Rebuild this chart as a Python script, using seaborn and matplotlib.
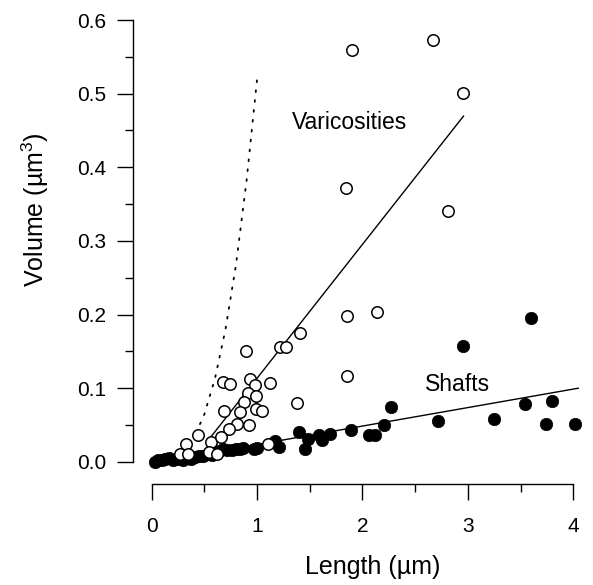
import numpy as np
import pandas as pd
import matplotlib
matplotlib.use("Agg")
import matplotlib.pyplot as plt
import seaborn as sns
from matplotlib.ticker import MultipleLocator, FormatStrFormatter

# =====================================
# DATA
# =====================================
# Varicosities (open circles): length (um), volume (um^3)
vari_length = [1.90, 2.67, 2.95, 1.84, 2.81, 1.85, 2.14, 1.41, 1.85, 0.89,
               1.22, 1.27, 0.93, 0.68, 0.74, 0.98, 1.12, 0.91, 0.99, 0.88,
               1.38, 0.69, 0.84, 0.99, 1.05, 0.81, 0.92, 0.73, 0.44, 0.56,
               0.66, 0.33, 0.27, 0.34, 0.54, 0.62, 1.10]
vari_volume = [0.559, 0.573, 0.501, 0.372, 0.341, 0.198, 0.204, 0.175, 0.117, 0.151,
               0.156, 0.156, 0.112, 0.108, 0.106, 0.104, 0.107, 0.093, 0.090, 0.081,
               0.080, 0.069, 0.068, 0.072, 0.069, 0.051, 0.050, 0.045, 0.036, 0.027,
               0.034, 0.024, 0.011, 0.011, 0.014, 0.011, 0.024]

# Shafts (filled circles)
shaft_length = [0.03, 0.06, 0.10, 0.13, 0.16, 0.20, 0.24, 0.27, 0.30, 0.34,
                0.37, 0.41, 0.45, 0.49, 0.53, 0.57, 0.61, 0.64, 0.68, 0.71,
                0.76, 0.80, 0.84, 0.87, 0.97, 1.00,
                1.17, 1.21, 1.40, 1.45, 1.48, 1.59, 1.62, 1.69, 1.89, 2.06,
                2.12, 2.20, 2.27, 2.95, 3.60, 2.72, 3.25, 3.54, 3.80, 3.74, 4.02]
shaft_volume = [0.000, 0.002, 0.002, 0.004, 0.005, 0.003, 0.004, 0.006, 0.002, 0.005,
                0.004, 0.007, 0.008, 0.008, 0.011, 0.010, 0.013, 0.015, 0.017, 0.016,
                0.016, 0.017, 0.017, 0.019, 0.018, 0.019,
                0.029, 0.020, 0.040, 0.017, 0.031, 0.037, 0.030, 0.038, 0.044, 0.037,
                0.037, 0.050, 0.074, 0.157, 0.195, 0.056, 0.058, 0.079, 0.083, 0.051, 0.052]

# Linear fits (slope, intercept, x range)
vari_fit = [0.1817, -0.068]
vari_fit_range = [0.55, 2.96]
shaft_fit = [0.0251, -0.0015]
shaft_fit_range = [0.05, 4.05]

# Dotted reference curve
ref_length = [0.42, 0.50, 0.60, 0.70, 0.80, 0.90, 1.00]
ref_volume = [0.039, 0.065, 0.113, 0.180, 0.268, 0.382, 0.520]

x_ticks = [0, 1, 2, 3, 4]
y_ticks = [0.0, 0.1, 0.2, 0.3, 0.4, 0.5, 0.6]

# =====================================
# STYLE
# =====================================
sns.set_style("ticks")
plt.rcParams["font.family"] = ["Liberation Sans", "DejaVu Sans"]
plt.rcParams["mathtext.fontset"] = "custom"
plt.rcParams["mathtext.rm"] = "Liberation Sans"
plt.rcParams["mathtext.it"] = "Liberation Sans"
plt.rcParams["text.color"] = "black"
plt.rcParams["axes.labelcolor"] = "black"

fig = plt.figure(figsize=(5.93, 5.85), dpi=100)
ax = fig.add_axes([0.2251, 0.1726, 0.7594, 0.8058])

df_vari = pd.DataFrame({"length": vari_length, "volume": vari_volume})
df_shaft = pd.DataFrame({"length": shaft_length, "volume": shaft_volume})

# dotted curve
ax.plot(ref_length, ref_volume, color="black", lw=1.3,
        linestyle=(0, (1, 4.5)), dash_capstyle="round")

# fit lines
xs = np.array(vari_fit_range)
ax.plot(xs, vari_fit[0] * xs + vari_fit[1], color="black", lw=1.0)
xs = np.array(shaft_fit_range)
ax.plot(xs, shaft_fit[0] * xs + shaft_fit[1], color="black", lw=1.0)

# points
sns.scatterplot(data=df_shaft, x="length", y="volume", ax=ax,
                color="black", edgecolor="black", s=80, linewidth=0.5,
                zorder=3)
sns.scatterplot(data=df_vari, x="length", y="volume", ax=ax,
                facecolor="white", edgecolor="black", s=68, linewidth=1.1,
                zorder=4)

ax.text(1.33, 0.4615, "Varicosities", fontsize=16.5, va="center", ha="left",
        color="black")
ax.text(2.59, 0.1045, "Shafts", fontsize=16.5, va="center", ha="left",
        color="black")

# =====================================
# AXES
# =====================================
ax.set_xlim(-0.173, 4.1)
ax.set_ylim(-0.030, 0.61)
ax.set_xticks(x_ticks)
ax.set_yticks(y_ticks)
ax.xaxis.set_minor_locator(MultipleLocator(0.5))
ax.yaxis.set_minor_locator(MultipleLocator(0.05))
ax.yaxis.set_major_formatter(FormatStrFormatter("%.1f"))

ax.tick_params(axis="both", which="major", direction="out", length=11.5,
               width=1.0, labelsize=15, color="black", labelcolor="black")
ax.tick_params(axis="both", which="minor", direction="out", length=6,
               width=1.0, color="black")
ax.tick_params(axis="x", which="major", pad=12)
ax.tick_params(axis="y", which="major", pad=8)

sns.despine(ax=ax, trim=True)
for side in ["left", "bottom"]:
    ax.spines[side].set_linewidth(1.0)
    ax.spines[side].set_color("black")

ax.set_xlabel("Length (\u00b5m)", fontsize=18, va="center", color="black")
ax.set_ylabel("Volume (\u00b5m$^3$)", fontsize=18, va="center", color="black")
ax.xaxis.set_label_coords(0.531, -0.176)
ax.yaxis.set_label_coords(-0.219, 0.583)

fig.savefig("out.png", dpi=100)
